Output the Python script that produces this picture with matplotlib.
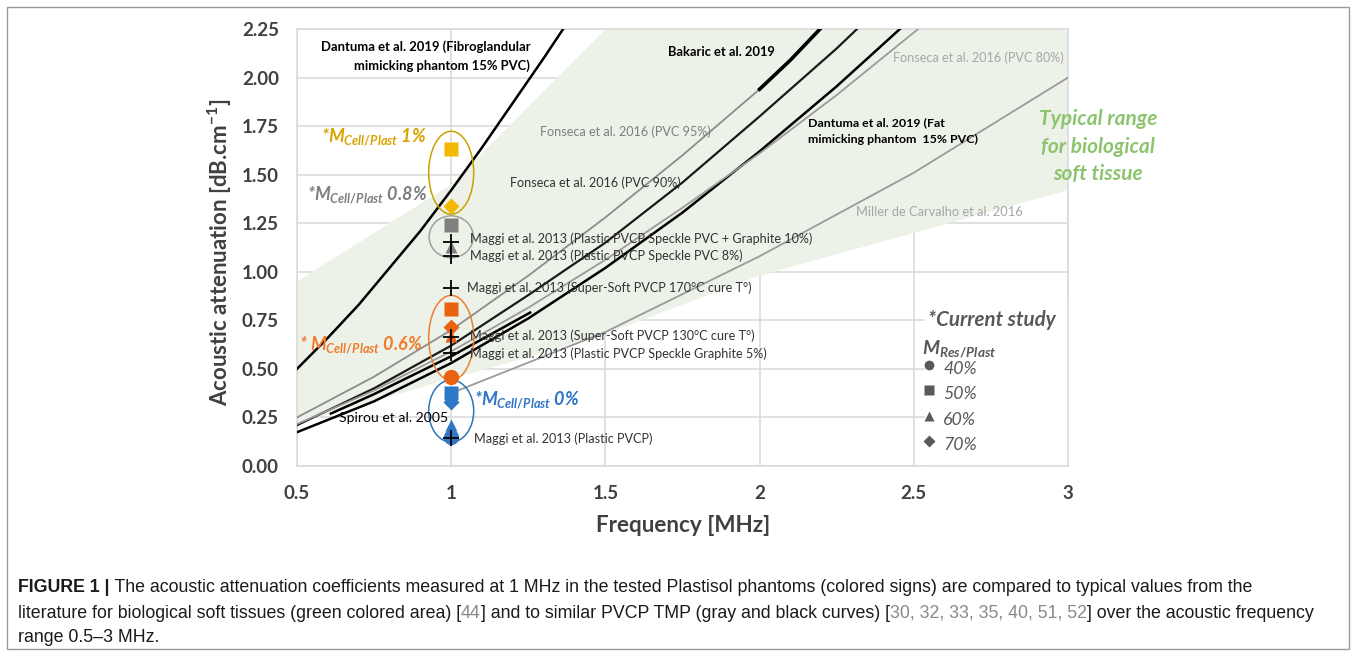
import matplotlib
matplotlib.use("Agg")
import matplotlib.pyplot as plt
from matplotlib.patches import Ellipse, Rectangle
from matplotlib import font_manager

plt.rcParams['font.family'] = ['Lato', 'DejaVu Sans']
plt.rcParams['mathtext.fontset'] = 'custom'
plt.rcParams['mathtext.it'] = 'Lato:italic:bold'
plt.rcParams['mathtext.rm'] = 'Lato:bold'
plt.rcParams['mathtext.bf'] = 'Lato:bold'

# ---------------- data ----------------
x_ticks = [0.5, 1, 1.5, 2, 2.5, 3]
x_ticklabels = ["0.5", "1", "1.5", "2", "2.5", "3"]
y_ticks = [0.0, 0.25, 0.5, 0.75, 1.0, 1.25, 1.5, 1.75, 2.0, 2.25]

# green band: typical range for biological soft tissue
band_f = [0.5, 1.0, 1.25, 1.5, 2.0, 2.5, 3.0]
band_low = [0.22, 0.45, 0.56, 0.68, 0.98, 1.20, 1.42]
band_high = [0.95, 1.45, 1.85, 2.25, 2.25, 2.25, 2.25]

# literature curves
fibro_f = [0.5, 0.6, 0.7, 0.8, 0.9, 1.0, 1.1, 1.2, 1.3, 1.363]
fibro_v = [0.50, 0.66, 0.83, 1.02, 1.21, 1.42, 1.64, 1.87, 2.10, 2.25]
fons95_f = [0.5, 0.75, 1.0, 1.25, 1.5, 1.75, 2.0, 2.1, 2.196]
fons95_v = [0.25, 0.46, 0.70, 0.98, 1.28, 1.60, 1.94, 2.09, 2.25]
fons90_f = [0.5, 0.75, 1.0, 1.25, 1.5, 1.75, 2.0, 2.25, 2.316]
fons90_v = [0.21, 0.40, 0.62, 0.88, 1.15, 1.46, 1.80, 2.15, 2.25]
fat_f = [0.5, 0.75, 1.0, 1.25, 1.5, 1.75, 2.0, 2.25, 2.455]
fat_v = [0.174, 0.333, 0.53, 0.76, 1.02, 1.305, 1.62, 1.955, 2.25]
fons80_f = [0.5, 0.75, 1.0, 1.25, 1.5, 1.75, 2.0, 2.25, 2.514]
fons80_v = [0.216, 0.389, 0.59, 0.815, 1.062, 1.33, 1.61, 1.91, 2.25]
spirou_f = [0.61, 0.75, 1.0, 1.256]
spirou_v = [0.27, 0.37, 0.565, 0.79]
miller_f = [1.0, 1.5, 2.0, 2.5, 3.0]
miller_v = [0.375, 0.69, 1.08, 1.51, 2.00]
bakaric_f = [2.0, 2.1, 2.196]
bakaric_v = [1.94, 2.09, 2.25]

# Maggi et al. 2013 points (at 1 MHz)
maggi_v = [1.154, 1.08, 0.919, 0.665, 0.583, 0.142]
maggi_labels = [
    "Maggi et al. 2013 (Plastic PVCP Speckle PVC + Graphite 10%)",
    "Maggi et al. 2013 (Plastic PVCP Speckle PVC 8%)",
    "Maggi et al. 2013 (Super-Soft PVCP 170°C cure T°)",
    "Maggi et al. 2013 (Super-Soft PVCP 130°C cure T°)",
    "Maggi et al. 2013 (Plastic PVCP Speckle Graphite 5%)",
    "Maggi et al. 2013 (Plastic PVCP)",
]

# current study at 1 MHz: (group, marker, value)
study_groups = ["1%", "0.8%", "0.6%", "0%"]
study_markers = {
    "1%":   [("s", 1.63), ("D", 1.34)],
    "0.8%": [("s", 1.24), ("^", 1.13)],
    "0.6%": [("s", 0.81), ("D", 0.715), ("^", 0.67), ("o", 0.458)],
    "0%":   [("s", 0.375), ("D", 0.33), ("^", 0.21), ("o", 0.15)],
}
legend_labels = ["40%", "50%", "60%", "70%"]
legend_markers = ["o", "s", "^", "D"]

# ---------------- styles ----------------
GOLD = "#F5B800"
GRAY = "#808080"
ORANGE = "#E8620F"
BLUE = "#2F78C8"
TXT = "#404040"
group_colors = {"1%": GOLD, "0.8%": GRAY, "0.6%": ORANGE, "0%": BLUE}
group_text_colors = {"1%": "#D9A300", "0.8%": "#7F7F7F", "0.6%": "#F07B2C", "0%": "#2E75C6"}

W, H = 1356, 656
fig = plt.figure(figsize=(W / 100, H / 100), dpi=100)

L, R, T, B = 297, 1068, 29, 466
ax = fig.add_axes([L / W, 1 - B / H, (R - L) / W, (B - T) / H])
ax.set_xlim(0.5, 3)
ax.set_ylim(0, 2.25)
ax.set_xticks(x_ticks)
ax.set_xticklabels(x_ticklabels)
ax.set_yticks(y_ticks)
ax.set_yticklabels([f"{v:.2f}" for v in y_ticks])
ax.tick_params(length=0, labelsize=13.5, labelcolor=TXT)
ax.tick_params(axis="y", pad=13)
ax.tick_params(axis="x", pad=14)
for lab in ax.get_xticklabels() + ax.get_yticklabels():
    lab.set_fontweight("bold")
ax.grid(True, color="#D9D9D9", lw=1.1, zorder=0)
ax.set_axisbelow(True)
for s in ax.spines.values():
    s.set_color("#D9D9D9")
    s.set_linewidth(1.1)

fig.text(683 / W, 1 - 526 / H, "Frequency [MHz]", fontsize=16.2, fontweight="bold", color=TXT,
         ha="center", va="center")
fig.text(220 / W, 1 - 252 / H, r"Acoustic attenuation [dB.cm$^{\mathregular{-1}}$]", fontsize=16,
         fontweight="bold", color=TXT, ha="center", va="center", rotation=90)

# band polygon
poly_f = band_f + band_f[::-1]
poly_v = band_low + band_high[::-1]
ax.fill(poly_f, poly_v, color="#EDF2E8", lw=0, zorder=1)

# curves
ax.plot(fibro_f, fibro_v, color="black", lw=1.8, zorder=3)
ax.plot(fons95_f, fons95_v, color="#8C8C8C", lw=1.3, zorder=3)
ax.plot(fons90_f, fons90_v, color="#1a1a1a", lw=1.6, zorder=3)
ax.plot(fat_f, fat_v, color="black", lw=1.8, zorder=3)
ax.plot(fons80_f, fons80_v, color="#9A9A9A", lw=1.3, zorder=3)
ax.plot(spirou_f, spirou_v, color="black", lw=1.8, zorder=3)
ax.plot(miller_f, miller_v, color="#9A9A9A", lw=1.3, zorder=3)
ax.plot(bakaric_f, bakaric_v, color="black", lw=2.6, zorder=3)

# white box behind legend
ax.add_patch(Rectangle((2.536, 0.0), 0.5, 0.855, facecolor="white", edgecolor="none", zorder=2))

# ellipses
ell = [("1%", 1.51, 0.146, 0.427), ("0.8%", 1.18, 0.143, 0.216),
       ("0.6%", 0.66, 0.146, 0.437), ("0%", 0.283, 0.146, 0.32)]
ell_colors = {"1%": "#C9A000", "0.8%": "#A0A0A0", "0.6%": "#ED7D31", "0%": "#2E75B6"}
for g, cy, w, h in ell:
    ax.add_patch(Ellipse((1.0, cy), w, h, facecolor="none", edgecolor=ell_colors[g], lw=1.1, zorder=4))

# study markers
msize = {"s": 10, "D": 8.5, "^": 9, "o": 11}
for g in study_groups:
    for m, v in study_markers[g]:
        ax.plot([1.0], [v], marker=m, ms=msize[m], color=group_colors[g], mec="none", zorder=5)

# Maggi crosses and labels
label_x = [1.061, 1.061, 1.051, 1.061, 1.061, 1.074]
label_dy = [0.014, 0.005, -0.003, 0.004, -0.007, -0.003]
for v, lab, lx, dy in zip(maggi_v, maggi_labels, label_x, label_dy):
    ax.plot([1.0], [v], marker="+", ms=11, mew=1.3, color="black", zorder=6)
    ax.text(lx, v + dy, lab, fontsize=9.1, color="#333333", va="center", ha="left", zorder=7)

# curve labels
ax.text(1.256, 2.108, "Dantuma et al. 2019 (Fibroglandular\nmimicking phantom 15% PVC)",
        fontsize=9.4, fontweight="bold", color="black", ha="right", va="center", linespacing=1.6)
ax.text(1.703, 2.13, "Bakaric et al. 2019", fontsize=9.3, fontweight="bold", color="black",
        ha="left", va="center")
ax.text(2.433, 2.10, "Fonseca et al. 2016 (PVC 80%)", fontsize=9.1, color="#A6A6A6",
        ha="left", va="center")
ax.text(1.288, 1.723, "Fonseca et al. 2016 (PVC 95%)", fontsize=9.1, color="#7F7F7F",
        ha="left", va="center")
ax.text(1.191, 1.456, "Fonseca et al. 2016 (PVC 90%)", fontsize=9.1, color="#333333",
        ha="left", va="center")
ax.text(2.157, 1.724, "Dantuma et al. 2019 (Fat\nmimicking phantom  15% PVC)", fontsize=8.9,
        fontweight="bold", color="black", ha="left", va="center", linespacing=1.55)
ax.text(2.313, 1.307, "Miller de Carvalho et al. 2016", fontsize=9.3, color="#A6A6A6",
        ha="left", va="center")
ax.text(0.637, 0.247, "Spirou et al. 2005", fontsize=10.1, color="black", ha="left", va="center",
        zorder=7)
ax.text(3.098, 1.645, "Typical range\nfor biological\nsoft tissue", fontsize=15, fontweight="bold",
        style="italic", color="#8CC46E", ha="center", va="center", linespacing=1.47, clip_on=False)

# group labels
gl = [("1%", 0.9215, 1.692, "right", "*$M_{Cell/Plast}$ 1%"),
      ("0.8%", 0.9215, 1.394, "right", "*$M_{Cell/Plast}$ 0.8%"),
      ("0.6%", 0.908, 0.622, "right", "* $M_{Cell/Plast}$ 0.6%"),
      ("0%", 1.074, 0.34, "left", "*$M_{Cell/Plast}$ 0%")]
for g, x, y, ha, s in gl:
    ax.text(x, y, s, fontsize=13, fontweight="bold", style="italic", color=group_text_colors[g],
            ha=ha, va="center", zorder=7)

# legend of the current study
LEGC = "#595959"
ax.text(2.546, 0.751, "*Current study", fontsize=14.8, fontweight="bold", style="italic",
        color=LEGC, ha="left", va="center", zorder=7)
ax.text(2.527, 0.60, "$M_{Res/Plast}$", fontsize=14, color=LEGC, ha="left", va="center", zorder=7)
leg_y = [0.509, 0.381, 0.247, 0.118]
for m, lab, y in zip(legend_markers, legend_labels, leg_y):
    ax.plot([2.549], [y + 0.01], marker=m, ms={"o": 7, "s": 7, "^": 7, "D": 6}[m], color=LEGC,
            mec="none", zorder=7, clip_on=False)
    ax.text(2.595, y - 0.012, lab, fontsize=12.8, style="italic", color=LEGC, ha="left",
            va="center", zorder=7)

# outer frame
fig.patches.append(Rectangle((7 / W, 1 - 649 / H), (1349 - 7) / W, (649 - 7) / H,
                             transform=fig.transFigure, facecolor="none", edgecolor="#9A9A9A",
                             lw=1.0))

# caption (rich text built from segments)
names = {f.name for f in font_manager.fontManager.ttflist}
cap_family = ["Liberation Sans Narrow"] if "Liberation Sans Narrow" in names else ["Liberation Sans"]
renderer = fig.canvas.get_renderer()

cap_lines = [
    [("FIGURE 1 |", "bold", "#1a1a1a"),
     (" The acoustic attenuation coefficients measured at 1 MHz in the tested Plastisol phantoms "
      "(colored signs) are compared to typical values from the", "normal", "#1a1a1a")],
    [("literature for biological soft tissues (green colored area) [", "normal", "#1a1a1a"),
     ("44", "normal", "#8A8A8A"),
     ("] and to similar PVCP TMP (gray and black curves) [", "normal", "#1a1a1a"),
     ("30, 32, 33, 35, 40, 51, 52", "normal", "#8A8A8A"),
     ("] over the acoustic frequency", "normal", "#1a1a1a")],
    [("range 0.5–3 MHz.", "normal", "#1a1a1a")],
]
cap_right = [1291, 1322, 163]
cap_y = [588, 613, 638]


def measure(s, size, weight):
    t = fig.text(0, 0, s, fontsize=size, fontweight=weight, family=cap_family)
    w = t.get_window_extent(renderer).width
    t.remove()
    return w


def seg_width(s, size, weight):
    # guard characters so leading/trailing spaces are counted
    return measure("|" + s + "|", size, weight) - 2 * measure("|", size, weight)


base = 12.0
scales = []
for segs, r in zip(cap_lines[:2], cap_right[:2]):
    w = sum(seg_width(s, base, wt) for s, wt, c in segs)
    scales.append((r - 18) / w)
size = min(13.5, base * min(scales))
for segs, yy in zip(cap_lines, cap_y):
    x = 18
    for s, wt, c in segs:
        fig.text(x / W, 1 - yy / H, s, fontsize=size, fontweight=wt, color=c, family=cap_family,
                 va="center", ha="left")
        x += seg_width(s, size, wt)

fig.savefig("out.png", dpi=100)
